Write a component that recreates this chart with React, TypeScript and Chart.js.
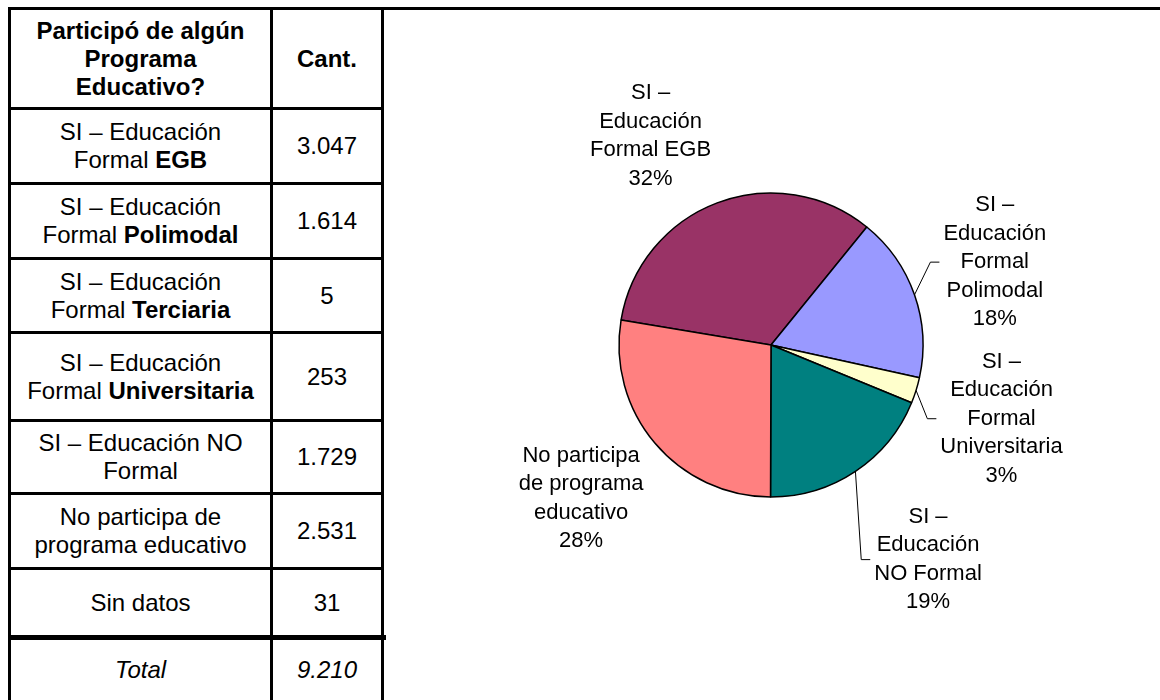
import React, { useEffect, useRef } from "react";
import { Chart, registerables } from "chart.js";

Chart.register(...registerables);

// ---------- data ----------
const tableHeader = "Participó de algún\nPrograma\nEducativo?";
const countHeader = "Cant.";
const categoryText = [
  "SI – Educación\nFormal ",
  "SI – Educación\nFormal ",
  "SI – Educación\nFormal ",
  "SI – Educación\nFormal ",
  "SI – Educación NO\nFormal",
  "No participa de\nprograma educativo",
  "Sin datos",
];
const categoryBold = ["EGB", "Polimodal", "Terciaria", "Universitaria", "", "", ""];
const counts = [3047, 1614, 5, 253, 1729, 2531, 31];
const countLabels = ["3.047", "1.614", "5", "253", "1.729", "2.531", "31"];
const totalLabel = "Total";
const totalValue = "9.210";

const pieCategories = [
  "SI – Educación Formal EGB",
  "SI – Educación Formal Polimodal",
  "SI – Educación Formal Universitaria",
  "SI – Educación NO Formal",
  "No participa de programa educativo",
];
const pieValues = [3047, 1614, 253, 1729, 2531];
const pieColors = ["#993366", "#9999FF", "#FFFFCC", "#008080", "#FF8080"];
const pieLabelLines = [
  ["SI –", "Educación", "Formal EGB", "32%"],
  ["SI –", "Educación", "Formal", "Polimodal", "18%"],
  ["SI –", "Educación", "Formal", "Universitaria", "3%"],
  ["SI –", "Educación", "NO Formal", "19%"],
  ["No participa", "de programa", "educativo", "28%"],
];

// ---------- layout / style (not data) ----------
const FONT = '"Liberation Sans", Arial, Helvetica, sans-serif';
const labelNudge = [
  [-36, 14],
  [1, -5],
  [-2, 1],
  [23, 14],
  [0, -7],
];
const labelLeader = [false, true, true, true, false];

const hLines = [
  { y: 7, h: 3, x1: 8, x2: 1160 },
  { y: 107, h: 3, x1: 8, x2: 384 },
  { y: 182, h: 3, x1: 8, x2: 384 },
  { y: 257, h: 3, x1: 8, x2: 384 },
  { y: 331, h: 3, x1: 8, x2: 384 },
  { y: 419, h: 3, x1: 8, x2: 384 },
  { y: 492, h: 3, x1: 8, x2: 384 },
  { y: 567, h: 3, x1: 8, x2: 384 },
  { y: 635, h: 5, x1: 8, x2: 386 },
];
const vLines = [8, 270, 381];

const labelPlugin = {
  id: "pieLabels",
  afterDatasetsDraw(chart: any) {
    const ctx = chart.ctx;
    const meta = chart.getDatasetMeta(0);
    ctx.save();
    ctx.font = `22px ${FONT}`;
    ctx.fillStyle = "#000";
    ctx.textAlign = "center";
    ctx.textBaseline = "middle";
    const lh = 28.5;
    meta.data.forEach((arc: any, i: number) => {
      const lines = pieLabelLines[i];
      if (!lines || !lines.length) return;
      const { x, y, startAngle, endAngle, outerRadius } = arc.getProps(
        ["x", "y", "startAngle", "endAngle", "outerRadius"],
        true
      );
      const mid = (startAngle + endAngle) / 2;
      const dx = Math.cos(mid);
      const dy = Math.sin(mid);
      const w = Math.max(...lines.map((l: string) => ctx.measureText(l).width));
      const h = lines.length * lh;
      const ext = (Math.abs(dx) * w) / 2 + (Math.abs(dy) * h) / 2;
      const d = outerRadius + 12 + ext;
      const cx = x + dx * d + labelNudge[i][0];
      const cy = y + dy * d + labelNudge[i][1];
      lines.forEach((l: string, k: number) => {
        ctx.fillText(l, cx, cy + (k - (lines.length - 1) / 2) * lh);
      });
      if (labelLeader[i]) {
        const ex = x + dx * outerRadius;
        const ey = y + dy * outerRadius;
        const endX = cx - w / 2 - 4;
        ctx.beginPath();
        ctx.moveTo(ex, ey);
        ctx.lineTo(endX - 9, cy);
        ctx.lineTo(endX, cy);
        ctx.lineWidth = 1;
        ctx.strokeStyle = "#000";
        ctx.stroke();
      }
    });
    ctx.restore();
  },
};

function Cell(props: {
  x1: number;
  x2: number;
  y1: number;
  y2: number;
  children: React.ReactNode;
  bold?: boolean;
  italic?: boolean;
}) {
  const { x1, x2, y1, y2, children, bold, italic } = props;
  return (
    <div
      style={{
        position: "absolute",
        left: x1,
        top: y1,
        width: x2 - x1,
        height: y2 - y1,
        display: "flex",
        alignItems: "center",
        justifyContent: "center",
        textAlign: "center",
        whiteSpace: "pre-line",
        fontFamily: FONT,
        fontSize: 24,
        lineHeight: "28px",
        fontWeight: bold ? "bold" : "normal",
        fontStyle: italic ? "italic" : "normal",
        color: "#000",
      }}
    >
      <div>{children}</div>
    </div>
  );
}

export default function App() {
  const canvasRef = useRef<HTMLCanvasElement | null>(null);

  useEffect(() => {
    document.documentElement.style.overflow = "hidden";
    document.body.style.overflow = "hidden";
    const canvas = canvasRef.current;
    if (!canvas) return;
    const chart = new Chart(canvas, {
      type: "pie",
      data: {
        labels: pieCategories,
        datasets: [
          {
            data: pieValues,
            backgroundColor: pieColors,
            borderColor: "#000",
            borderWidth: 1.5,
            radius: 152,
            rotation: 279.5,
          } as any,
        ],
      },
      options: {
        animation: false,
        responsive: false,
        events: [],
        rotation: 279.5,
        radius: 152,
        layout: { padding: { left: 0, right: 2, top: 0, bottom: 20 } },
        plugins: {
          legend: { display: false },
          tooltip: { enabled: false },
        },
      } as any,
      plugins: [labelPlugin],
    });
    return () => chart.destroy();
  }, []);

  // row boundaries derived from line positions
  const rowBounds: [number, number][] = [];
  for (let i = 0; i < hLines.length; i++) {
    const top = hLines[i].y + hLines[i].h;
    const bottom = i + 1 < hLines.length ? hLines[i + 1].y : 700;
    rowBounds.push([top, bottom]);
  }
  const c1: [number, number] = [vLines[0] + 3, vLines[1]];
  const c2: [number, number] = [vLines[1] + 3, vLines[2]];

  return (
    <div>
      {hLines.map((l, i) => (
        <div
          key={"h" + i}
          style={{
            position: "absolute",
            left: l.x1,
            top: l.y,
            width: l.x2 - l.x1,
            height: l.h,
            background: "#000",
          }}
        />
      ))}
      {vLines.map((x, i) => (
        <div
          key={"v" + i}
          style={{
            position: "absolute",
            left: x,
            top: 7,
            width: 3,
            height: 693,
            background: "#000",
          }}
        />
      ))}
      <Cell x1={c1[0]} x2={c1[1]} y1={rowBounds[0][0]} y2={rowBounds[0][1]} bold>
        {tableHeader}
      </Cell>
      <Cell x1={c2[0]} x2={c2[1]} y1={rowBounds[0][0]} y2={rowBounds[0][1]} bold>
        {countHeader}
      </Cell>
      {counts.map((_, i) => (
        <React.Fragment key={"r" + i}>
          <Cell x1={c1[0]} x2={c1[1]} y1={rowBounds[i + 1][0]} y2={rowBounds[i + 1][1]}>
            {categoryText[i]}
            {categoryBold[i] ? <b>{categoryBold[i]}</b> : null}
          </Cell>
          <Cell x1={c2[0]} x2={c2[1]} y1={rowBounds[i + 1][0]} y2={rowBounds[i + 1][1]}>
            {countLabels[i]}
          </Cell>
        </React.Fragment>
      ))}
      <Cell x1={c1[0]} x2={c1[1]} y1={rowBounds[8][0]} y2={rowBounds[8][1]} italic>
        {totalLabel}
      </Cell>
      <Cell x1={c2[0]} x2={c2[1]} y1={rowBounds[8][0]} y2={rowBounds[8][1]} italic>
        {totalValue}
      </Cell>
      <canvas
        ref={canvasRef}
        width={776}
        height={690}
        style={{ position: "absolute", left: 384, top: 10, width: 776, height: 690 }}
      />
    </div>
  );
}
